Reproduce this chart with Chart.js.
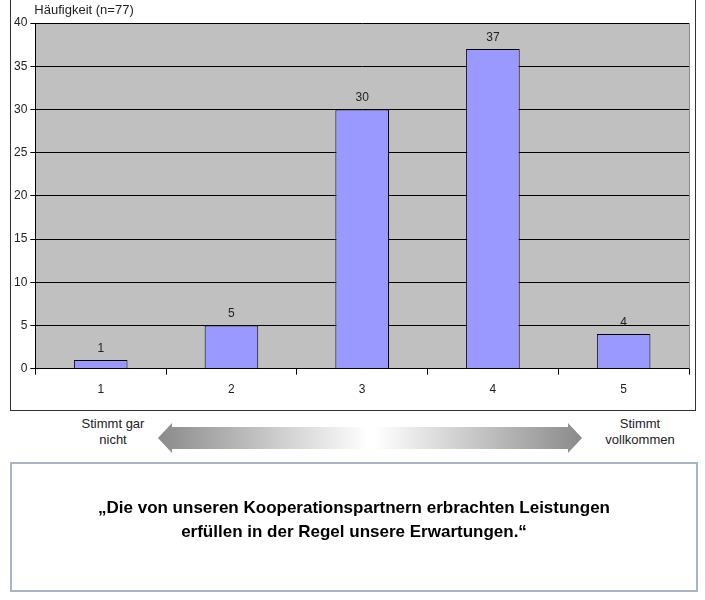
<!DOCTYPE html>
<html><head><meta charset="utf-8">
<script src="https://cdn.jsdelivr.net/npm/chart.js@4"></script>
<style>
body{margin:0;width:705px;height:600px;background:#fff;font-family:"Liberation Sans",Arial,sans-serif;position:relative}
#box{position:absolute;left:10px;top:0;width:686px;height:411px;border:1px solid #333;border-top:none;box-sizing:border-box}
#c{position:absolute;left:0;top:0}
.lbl{position:absolute;font-size:13px;color:#222;text-align:center;line-height:16px}
#q{position:absolute;left:10px;top:462px;width:688px;height:130px;border:2px solid #a9b5c4;box-sizing:border-box;text-align:center;font-weight:bold;font-size:17px;line-height:24px;padding-top:32px;color:#000}
</style></head><body>
<div id="box"><canvas id="c" width="686" height="411"></canvas></div>
<div class="lbl" style="left:68px;top:416px;width:90px">Stimmt gar<br>nicht</div>
<div class="lbl" style="left:590px;top:416px;width:100px">Stimmt<br>vollkommen</div>
<svg style="position:absolute;left:0;top:0" width="705" height="470">
<defs>
<linearGradient id="gl" x1="0" x2="1"><stop offset="0" stop-color="#8a8a8a"/><stop offset="1" stop-color="#ffffff"/></linearGradient>
<linearGradient id="gr" x1="0" x2="1"><stop offset="0" stop-color="#ffffff"/><stop offset="1" stop-color="#8a8a8a"/></linearGradient>
</defs>
<polygon points="158,438 172,423 172,427 368,427 368,449 172,449 172,453" fill="url(#gl)"/>
<polygon points="582,438 568,423 568,427 375,427 375,449 568,449 568,453" fill="url(#gr)"/>
</svg>
<div id="q">„Die von unseren Kooperationspartnern erbrachten Leistungen<br>erfüllen in der Regel unsere Erwartungen.“</div>
<script>
const categories=["1","2","3","4","5"];
const values=[1,5,30,37,4];
const yTitle="Häufigkeit (n=77)";
const font={family:"Liberation Sans",size:12};
const deco={id:'deco',
beforeDraw(ch){const a=ch.chartArea,x=ch.ctx;x.save();x.fillStyle='#c0c0c0';x.fillRect(a.left,a.top,a.right-a.left,a.bottom-a.top);x.restore();},
afterDatasetsDraw(ch){const x=ch.ctx;x.save();x.font='12px "Liberation Sans"';x.fillStyle='#222';x.textAlign='center';
ch.getDatasetMeta(0).data.forEach((b,i)=>x.fillText(values[i],b.x,b.y-8));
x.textAlign='left';x.font='13px "Liberation Sans"';x.fillText(yTitle,ch.chartArea.left-1,14);
const a=ch.chartArea;x.strokeStyle='#888';x.lineWidth=1;x.strokeRect(a.right+0.5,a.top,0,a.bottom-a.top);x.restore();}};
new Chart(document.getElementById('c'),{type:'bar',
data:{labels:categories,datasets:[{data:values,backgroundColor:'#9999ff',borderColor:'#000',borderWidth:1,barPercentage:0.41,categoryPercentage:1}]},
options:{responsive:false,animation:false,layout:{padding:{top:23,right:8,bottom:6,left:0}},
plugins:{legend:{display:false},tooltip:{enabled:false}},
scales:{
y:{min:0,max:40,ticks:{stepSize:5,color:'#222',font},grid:{color:'#000',tickLength:5,tickColor:'#000'},border:{color:'#000'}},
x:{grid:{offset:true,drawOnChartArea:false,tickLength:6,color:'#000'},border:{color:'#000'},ticks:{color:'#222',font,padding:8}}}},
plugins:[deco]});
</script></body></html>
